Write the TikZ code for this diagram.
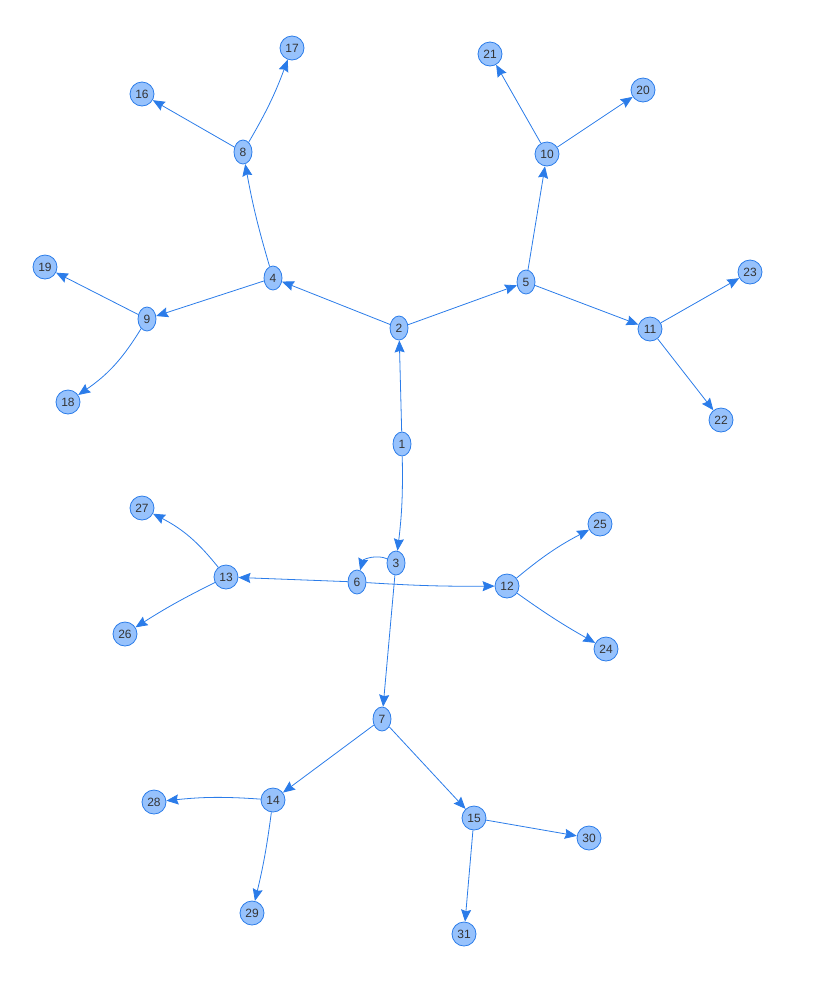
\documentclass[tikz,border=0pt]{standalone}
\usepackage{fontspec}
\setmainfont{Liberation Sans}
\usepackage{tikz}
\usetikzlibrary{shapes.geometric}
\usetikzlibrary{arrows.meta}
\definecolor{nodefill}{HTML}{97C2FC}
\definecolor{nodeborder}{HTML}{2B7CE9}
\definecolor{nodetext}{HTML}{343434}
\tikzset{
    vert/.style={
        ellipse, draw=nodeborder, fill=nodefill, line width=0.8pt,
        inner sep=0pt, minimum width=18pt, minimum height=24pt,
        text=nodetext, font=\fontsize{12}{12}\selectfont
    },
    bigvert/.style={vert, minimum width=24pt},
    link/.style={
        draw=nodeborder, line width=0.8pt,
        -{Stealth[length=12pt,width=10pt,inset=1.5pt]}
    }
}
\newcommand{\graphNode}[4] {
	\node[#4] (v#1) at (#2,-#3) {#1};
}
\newcommand{\graphEdge}[3] {
	\draw[link,#3] (v#1) to (v#2);
}
\begin{document}
\begin{tikzpicture}[x=1pt,y=1pt]
		\useasboundingbox (0,0) rectangle (839,-989);

		% inner vertices
		\graphNode{1}{402}{444}{vert}
		\graphNode{2}{399}{328}{vert}
		\graphNode{3}{396}{563}{vert}
		\graphNode{4}{273}{278}{vert}
		\graphNode{5}{526}{282}{vert}
		\graphNode{6}{357}{582}{vert}
		\graphNode{7}{382}{719}{vert}
		\graphNode{8}{243}{152}{vert}
		\graphNode{9}{147}{319}{vert}
		\graphNode{10}{547}{154}{bigvert}
		\graphNode{11}{650}{329}{bigvert}
		\graphNode{12}{507}{586}{bigvert}
		\graphNode{13}{226}{577}{bigvert}
		\graphNode{14}{273}{800}{bigvert}
		\graphNode{15}{474}{818}{bigvert}

		% leaves
		\graphNode{16}{142}{94}{bigvert}
		\graphNode{17}{292}{48}{bigvert}
		\graphNode{18}{68}{402}{bigvert}
		\graphNode{19}{45}{267}{bigvert}
		\graphNode{20}{643}{90}{bigvert}
		\graphNode{21}{490}{54}{bigvert}
		\graphNode{22}{721}{420}{bigvert}
		\graphNode{23}{750}{272}{bigvert}
		\graphNode{24}{606}{649}{bigvert}
		\graphNode{25}{600}{524}{bigvert}
		\graphNode{26}{125}{634}{bigvert}
		\graphNode{27}{142}{508}{bigvert}
		\graphNode{28}{154}{802}{bigvert}
		\graphNode{29}{252}{913}{bigvert}
		\graphNode{30}{589}{838}{bigvert}
		\graphNode{31}{464}{934}{bigvert}

		% upper half
		\graphEdge{1}{2}{}
		\graphEdge{2}{4}{}
		\graphEdge{2}{5}{}
		\graphEdge{4}{8}{bend left=3}
		\graphEdge{4}{9}{}
		\graphEdge{5}{10}{}
		\graphEdge{5}{11}{}
		\graphEdge{8}{16}{}
		\graphEdge{8}{17}{bend right=5}
		\graphEdge{9}{18}{bend left=12}
		\graphEdge{9}{19}{}
		\graphEdge{10}{20}{}
		\graphEdge{10}{21}{}
		\graphEdge{11}{22}{}
		\graphEdge{11}{23}{}

		% lower half
		\graphEdge{1}{3}{bend left=4}
		\graphEdge{3}{6}{out=155,in=75}
		\graphEdge{3}{7}{}
		\graphEdge{6}{12}{bend right=2}
		\graphEdge{6}{13}{}
		\graphEdge{7}{14}{}
		\graphEdge{7}{15}{}
		\graphEdge{12}{24}{bend right=3}
		\graphEdge{12}{25}{bend left=6}
		\graphEdge{13}{26}{bend right=3}
		\graphEdge{13}{27}{bend right=12}
		\graphEdge{14}{28}{bend right=5}
		\graphEdge{14}{29}{bend left=3}
		\graphEdge{15}{30}{}
		\graphEdge{15}{31}{}

	\end{tikzpicture}
\end{document}
